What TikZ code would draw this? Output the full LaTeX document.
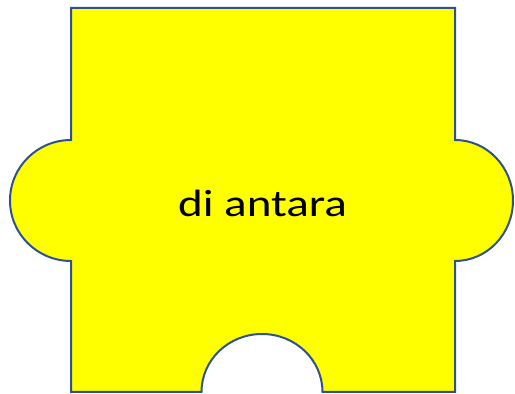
\documentclass[tikz,border=0pt]{standalone}
\usepackage{fontspec}
\setmainfont{Carlito}
\definecolor{pieceblue}{HTML}{2F528F}
\definecolor{pieceyellow}{RGB}{255,255,0}
\begin{document}
\begin{tikzpicture}[x=1pt,y=1pt,
  piece/.style={draw=pieceblue,fill=pieceyellow,line width=2pt,line join=miter},
  label/.style={font=\fontsize{38}{40}\selectfont,inner sep=0pt,anchor=base,xscale=1.24}]
\useasboundingbox (0,0) rectangle (515,394);
\path[piece] (71,386) -- (455,386) -- (455,254)
  arc[start angle=90,end angle=-90,x radius=58,y radius=60.5]
  -- (455,2) -- (322.5,2)
  arc[start angle=0,end angle=180,x radius=60.5,y radius=58]
  -- (71,2) -- (71,133)
  arc[start angle=270,end angle=90,x radius=61,y radius=60.5]
  -- cycle;
\node[label] (t) at (262.5,177.3) {di antara};
\end{tikzpicture}
\end{document}
